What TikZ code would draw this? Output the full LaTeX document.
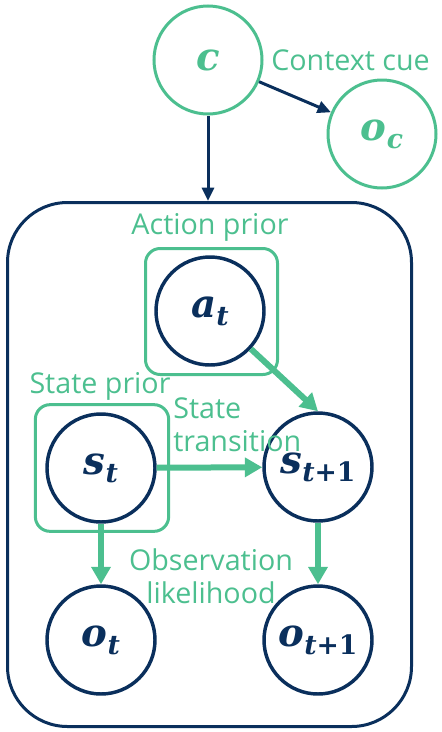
\documentclass[tikz,border=0pt]{standalone}
\usepackage{fontspec}
\setmainfont{Open Sans}
\newfontfamily\varfont{DejaVu Serif}
\usepackage{tikz}
\usetikzlibrary{positioning, arrows.meta}
\definecolor{cuegreen}{RGB}{76,191,143}
\definecolor{varnavy}{RGB}{10,47,92}
\newcommand{\varsub}[2]{#1\raisebox{-6pt}{\fontsize{20}{24}\selectfont #2}}

\begin{document}
\begin{tikzpicture}[x=0.75pt, y=-0.75pt,
  var/.style={circle, draw=varnavy, line width=2.6pt, minimum size=81pt, inner sep=0pt, text=varnavy, font=\varfont\bfseries\itshape\fontsize{29}{34}\selectfont},
  cue/.style={var, draw=cuegreen, line width=2.25pt, text=cuegreen},
  prior/.style={rectangle, rounded corners=11pt, draw=cuegreen, line width=2.25pt},
  lbl/.style={text=cuegreen, font=\fontsize{21.5}{25}\selectfont, inner sep=0pt},
  gen/.style={-{Triangle[length=13pt,width=14pt]}, draw=cuegreen, line width=4.5pt},
  ctx/.style={-{Triangle[length=10pt,width=9pt]}, draw=varnavy, line width=2.25pt}]
			\useasboundingbox (0,0) rectangle (442,732);
			
			\node[draw=varnavy, line width=2.25pt, rounded corners=45pt, minimum width=303pt, minimum height=393pt] (plate) at (209.5,464.5) {};
			\node[prior, minimum width=99pt, minimum height=94.5pt] (apbox) at (211.5,311.5) {};
			\node[prior, minimum width=100pt, minimum height=95pt] (spbox) at (102,468) {};
			
			\node[cue] (c) at (208,60) {c};
			\node[cue] (oc) at (382,134) {\varsub{o}{c}};
			\node[var] (at) at (210,311) {\varsub{a}{t}};
			\node[var] (st) at (101,468) {\varsub{s}{t}};
			\node[var] (st1) at (318,467) {\varsub{s}{t\upshape+1}};
			\node[var] (ot) at (101,640) {\varsub{o}{t}};
			\node[var] (ot1) at (318,640) {\varsub{o}{t\upshape+1}};
			
			\node[lbl, anchor=west] (ccue) at (271,60) {Context cue};
			\node[lbl] (aprior) at (210,227) {Action prior};
			\node[lbl] (sprior) at (100,386) {State prior};
			\node[lbl, align=left, anchor=west] (strans) at (173,425) {State\\transition};
			\node[lbl, align=center] (olik) at (211,576) {Observation\\likelihood};
			
			\draw (c) edge[ctx] (oc);
			\draw (c) edge[ctx] (c |- plate.north);
			\draw (at) edge[gen] (st1.north);
			\draw (st) edge[gen] (st1);
			\draw (st) edge[gen] (ot);
			\draw (st1) edge[gen] (ot1);
		\end{tikzpicture}
\end{document}
